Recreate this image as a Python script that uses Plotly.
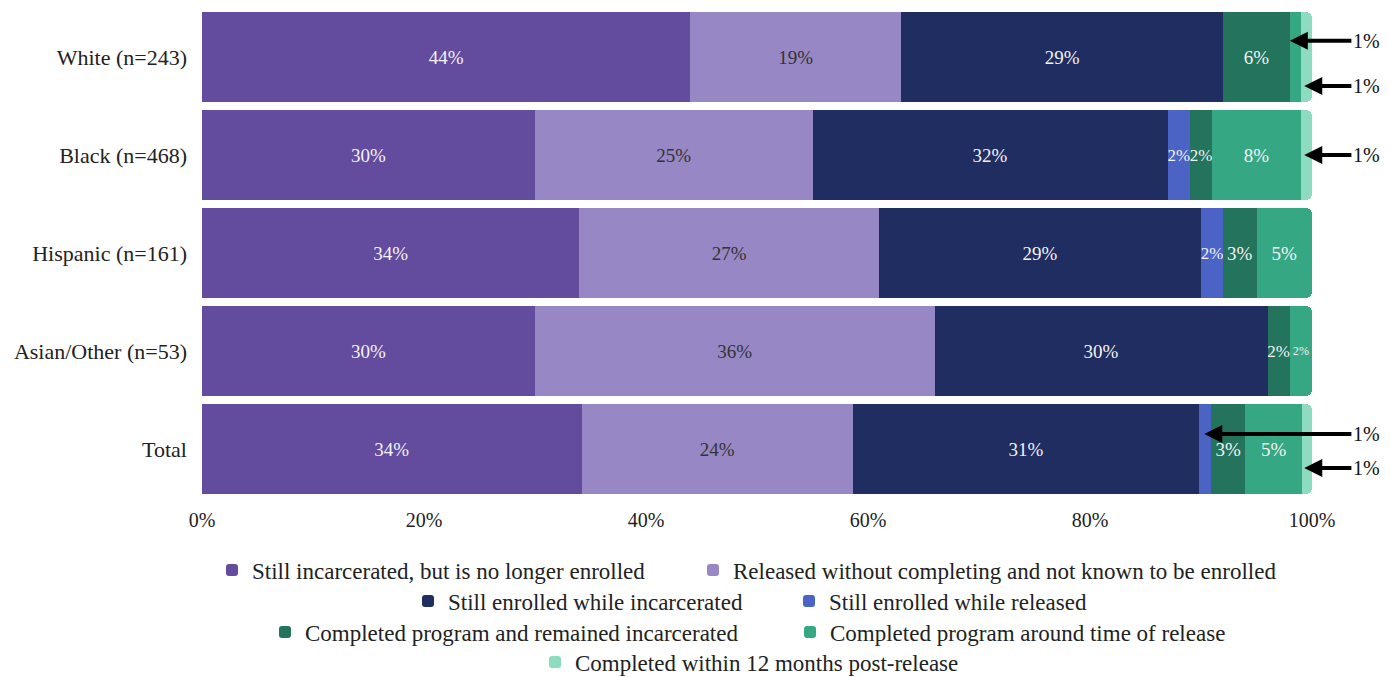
import plotly.graph_objects as go

# Outcome shares (%) by group
groups = ["White (n=243)", "Black (n=468)", "Hispanic (n=161)", "Asian/Other (n=53)", "Total"]

series_names = [
    "Still incarcerated, but is no longer enrolled",
    "Released without completing and not known to be enrolled",
    "Still enrolled while incarcerated",
    "Still enrolled while released",
    "Completed program and remained incarcerated",
    "Completed program around time of release",
    "Completed within 12 months post-release",
]

still_incarcerated = [44, 30, 34, 30, 34.2]
released_not_enrolled = [19, 25, 27, 36, 24.45]
enrolled_incarcerated = [29, 32, 29, 30, 31.15]
enrolled_released = [0, 2, 2, 0, 1.1]
completed_incarcerated = [6, 2, 3, 2, 3.1]
completed_release = [1, 8, 5, 2, 5.1]
completed_12m = [1, 1, 0, 0, 0.9]

series_values = [
    still_incarcerated,
    released_not_enrolled,
    enrolled_incarcerated,
    enrolled_released,
    completed_incarcerated,
    completed_release,
    completed_12m,
]

x_ticks = [0, 20, 40, 60, 80, 100]
x_tick_labels = [f"{t}%" for t in x_ticks]

colors = ["#634c9e", "#9787c4", "#202d60", "#4a63c5", "#24735c", "#36a783", "#8ddcc0"]
text_colors = ["#f2f2f2", "#333333", "#f2f2f2", "#f2f2f2", "#f2f2f2", "#f2f2f2", "#f2f2f2"]

# One legend box per entry so each legend row can be centred on its own
legend_ids = ["legend", "legend2", "legend3", "legend4", "legend5", "legend6", "legend7"]
legend_text_left = [252, 733, 448, 829, 305, 830, 575]   # px, where each entry's label starts
legend_row_mid = [570, 570, 601, 601, 632, 632, 662]     # px, vertical centre of each row

W, H = 1391, 677
FONT = "Liberation Serif"

fig = go.Figure()
for name, vals, col, tcol, lg in zip(series_names, series_values, colors, text_colors, legend_ids):
    labels = [f"{v:.0f}%" if v >= 1.5 else "" for v in vals]
    sizes = [19 if v >= 2.5 else 17 for v in vals]
    fig.add_trace(go.Bar(
        y=groups, x=vals, orientation="h", name=name,
        marker=dict(color=col, line=dict(width=0)),
        text=labels, textposition="inside", insidetextanchor="middle",
        textangle=0, constraintext="none",
        textfont=dict(color=tcol, size=sizes, family=FONT),
        hoverinfo="skip", legend=lg,
    ))

# Callouts for the 1% slivers: (x tip, y position on category axis)
callouts = [
    (98.0, 0 - 0.165),
    (99.3, 0 + 0.296),
    (99.3, 1.0),
    (90.3, 4 - 0.153),
    (99.3, 4 + 0.194),
]
for xt, yt in callouts:
    fig.add_annotation(
        x=xt, y=yt, xref="x", yref="y", text="1%",
        showarrow=True, axref="x", ax=104.9, ayref="y", ay=yt,
        arrowhead=2, arrowsize=0.9, arrowwidth=4, arrowcolor="#000000",
        font=dict(size=20, family=FONT, color="#111111"),
        xanchor="center",
    )

legend_layout = {}
for lg, tx, ty in zip(legend_ids, legend_text_left, legend_row_mid):
    legend_layout[lg] = dict(
        orientation="h", xref="container", x=(tx - 40) / W, xanchor="left",
        yref="container", y=1 - ty / H, yanchor="middle", traceorder="normal",
        font=dict(size=23, family=FONT, color="#222222"), bgcolor="rgba(0,0,0,0)",
        itemclick=False, itemdoubleclick=False, borderwidth=0,
    )

fig.update_layout(
    barmode="stack",
    bargap=0.082,
    barcornerradius=6,
    width=W, height=H,
    margin=dict(l=202, r=79, t=8, b=179, autoexpand=False),
    paper_bgcolor="white", plot_bgcolor="white",
    font=dict(family=FONT, size=19, color="#222222"),
    showlegend=True,
    xaxis=dict(
        range=[0, 100], tickmode="array", tickvals=x_ticks, ticktext=x_tick_labels,
        showgrid=False, zeroline=False, showline=False, ticks="",
        ticklabelstandoff=8,
        tickfont=dict(size=20, family=FONT, color="#222222"), fixedrange=True,
    ),
    yaxis=dict(
        categoryorder="array", categoryarray=groups, autorange="reversed",
        showgrid=False, zeroline=False, showline=False, ticks="",
        ticklabelstandoff=14,
        tickfont=dict(size=22, family=FONT, color="#222222"), fixedrange=True,
    ),
    **legend_layout,
)

fig.write_html("out.html", config={"displayModeBar": False})
